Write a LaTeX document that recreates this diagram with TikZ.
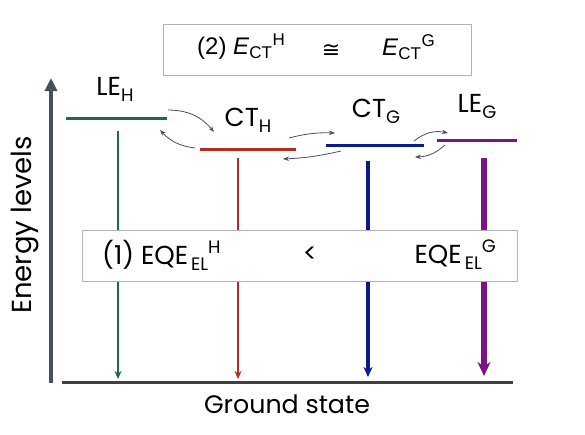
\documentclass[tikz,border=0pt]{standalone}
\usepackage{fontspec}
\setmainfont{Poppins}
\newfontfamily\arialfont{Liberation Sans}
\newfontfamily\symbolfont{DejaVu Sans}
\usetikzlibrary{arrows.meta}
\definecolor{leH}{HTML}{1E6B45}
\definecolor{ctH}{HTML}{B22E1E}
\definecolor{ctG}{HTML}{0B1A8E}
\definecolor{leG}{HTML}{7A1384}
\definecolor{axisgray}{HTML}{46505E}
\newcommand{\smalltext}[1]{\mbox{\fontsize{17}{19}\selectfont #1}}
\newcommand{\lowsub}[1]{\raisebox{-6pt}{\fontsize{18}{20}\selectfont #1}}
\newcommand{\highsup}[1]{\raisebox{11pt}{\fontsize{18}{20}\selectfont #1}}
\tikzset{
  level/.style = {line width = 3pt},
  decay/.style = {-{Stealth[length=8pt, width=7pt]}},
  transfer/.style = {axisgray, line width = 0.8pt, -{Stealth[length=6pt, width=4.5pt]}},
  infobox/.style = {draw = gray!60, line width = 0.8pt, fill = white, minimum height = 51pt},
  lbl/.style = {font = \fontsize{26}{30}\selectfont, inner sep = 1pt},
  arial/.style = {font = \arialfont\fontsize{24}{28}\selectfont, inner sep = 1pt}
}
\begin{document}
\begin{tikzpicture}[x = 1pt, y = -1pt]
\useasboundingbox (0,0) rectangle (585,434);
% axis and ground state
\draw[axisgray, line width = 4pt, -{Triangle[length=13pt, width=12pt]}] (51,383) -- (51,78);
\draw[black!75, line width = 3pt] (62,382) -- (513,382);
\node[lbl, rotate = 90, font = \fontsize{27.5}{30}\selectfont] (energy) at (25,225) {Energy levels};
\node[lbl, font = \fontsize{25.3}{28}\selectfont] (ground) at (287,404) {Ground state};
% energy levels
\draw[level, leH] (66,118) coordinate (leHa) -- (167,118) coordinate (leHb);
\draw[level, ctH] (200,149) coordinate (ctHa) -- (296,149) coordinate (ctHb);
\draw[level, ctG] (326,145) coordinate (ctGa) -- (424,145) coordinate (ctGb);
\draw[level, leG] (437,140) coordinate (leGa) -- (517,140) coordinate (leGb);
\node[lbl] (leHlabel) at (115,89) {LE\lowsub{H}};
\node[lbl] (ctHlabel) at (248,120) {CT\lowsub{H}};
\node[lbl] (ctGlabel) at (376,111) {CT\lowsub{G}};
\node[lbl] (leGlabel) at (477,106) {LE\lowsub{G}};
% radiative decays
\draw[decay, leH, line width = 2pt] (118,131) -- (118,379);
\draw[decay, ctH, line width = 1.2pt] (238,158) -- (238,379);
\draw[decay, ctG, line width = 3.5pt, -{Stealth[length=10pt, width=9pt]}] (368,161) -- (368,377);
\draw[decay, leG, line width = 5.5pt, -{Stealth[length=14pt, width=13pt]}] (484,158) -- (484,376);
% transfer between states
\coordinate (t1a) at (168,110); \coordinate (t1b) at (214,132);
\coordinate (t2a) at (195,148); \coordinate (t2b) at (160,130);
\coordinate (t3a) at (289,138); \coordinate (t3b) at (335,133);
\coordinate (t4a) at (341,151); \coordinate (t4b) at (283,159);
\coordinate (t5a) at (414,141); \coordinate (t5b) at (448,133);
\coordinate (t6a) at (445,145); \coordinate (t6b) at (415,157);
\draw[transfer] (t1a) to[bend left = 25] (t1b);
\draw[transfer] (t2a) to[bend left = 20] (t2b);
\draw[transfer] (t3a) to[bend left = 8] (t3b);
\draw[transfer] (t4a) to[bend left = 5] (t4b);
\draw[transfer] (t5a) to[bend left = 25] (t5b);
\draw[transfer] (t6a) to[bend left = 20] (t6b);
% comparison boxes
\node[infobox, minimum width = 308pt] (ectbox) at (317,49.5) {};
\node[arial, anchor = west] (ectH) at (196,47) {(2) \textit{E}$_{\smalltext{CT}}{}^{\smalltext{H}}$};
\node[arial, inner sep = 0pt, font = \symbolfont\fontsize{22}{24}\selectfont] (approx) at (331,51) {≅};
\node[arial, anchor = west] (ectG) at (381,47) {\textit{E}$_{\smalltext{CT}}{}^{\smalltext{G}}$};
\node[infobox, minimum width = 435pt] (eqebox) at (299.5,256) {};
\node[lbl, anchor = west] (eqeH) at (101,255) {(1) EQE\hspace{3pt}\lowsub{EL}\highsup{H}};
\node[lbl] (less) at (310,255) {<};
\node[lbl, anchor = east] (eqeG) at (497,255) {EQE\hspace{3pt}\lowsub{EL}\highsup{G}};
\end{tikzpicture}
\end{document}
